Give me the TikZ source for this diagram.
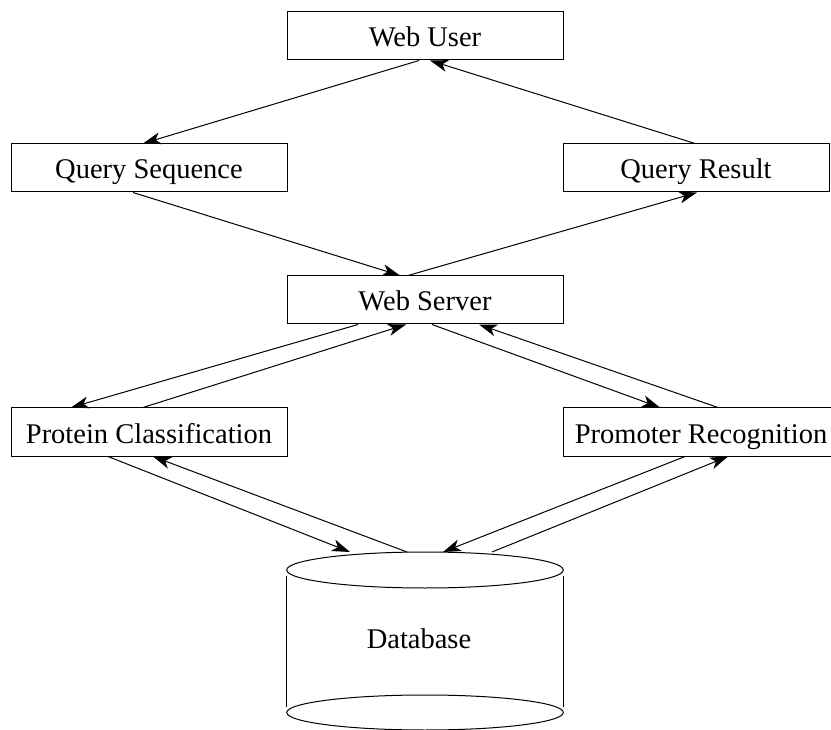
\documentclass[tikz,border=0pt]{standalone}
\usepackage{fontspec}
\setmainfont{Liberation Serif}
\usetikzlibrary{arrows.meta}
\begin{document}
\begin{tikzpicture}[x=1pt,y=-1pt,
  lbl/.style={font=\fontsize{28.5}{31}\selectfont,inner sep=0pt,text height=24pt,text depth=2pt},
  box/.style={draw,line width=1pt,rectangle,minimum height=48pt,lbl},
  conn/.style={line width=1pt,-{Stealth[length=18pt,width=12pt,inset=5pt]}},
  dbline/.style={line width=1pt}]
\useasboundingbox (0,0) rectangle (831,730);
\node[box,minimum width=276pt] (wu) at (425,36) {Web User};
\node[box,minimum width=276pt] (qs) at (149,168) {Query Sequence};
\node[box,minimum width=266pt] (qr) at (696,168) {Query Result};
\node[box,minimum width=276pt] (ws) at (425,300) {Web Server};
\node[box,minimum width=276pt] (pc) at (149,432) {Protein Classification};
\node[box,minimum width=276pt] (pr) at (701,432) {Promoter Recognition};
% database cylinder
\draw[dbline] (425,570) ellipse [x radius=138.3, y radius=18];
\draw[dbline] (286.7,576) -- (286.7,707);
\draw[dbline] (563.3,576) -- (563.3,707);
\draw[dbline] (425,712.5) ellipse [x radius=138.3, y radius=17.5];
\node[lbl] (db) at (419,637) {Database};
\coordinate (dbtop) at (425,552);
% connectors
\draw[conn] ([xshift=-6pt]wu.south) -- ([xshift=-6pt]qs.north);
\draw[conn] ([xshift=-1pt]qr.north) -- ([xshift=5pt]wu.south);
\draw[conn] ([xshift=-16pt]qs.south) -- ([xshift=-25pt]ws.north);
\draw[conn] ([xshift=-17pt]ws.north) -- ([xshift=1pt]qr.south);
\draw[conn] ([xshift=-67pt]ws.south) -- ([xshift=-78pt]pc.north);
\draw[conn] ([xshift=-6pt]pc.north) -- ([xshift=-19pt]ws.south);
\draw[conn] ([xshift=7pt]ws.south) -- ([xshift=-41pt]pr.north);
\draw[conn] ([xshift=17pt]pr.north) -- ([xshift=54pt]ws.south);
\draw[conn] ([xshift=-41pt]pc.south) -- ([xshift=-75pt]dbtop);
\draw[conn] ([xshift=-18pt]dbtop) -- ([xshift=4pt]pc.south);
\draw[conn] ([xshift=-16pt]pr.south) -- ([xshift=18pt]dbtop);
\draw[conn] ([xshift=67pt]dbtop) -- ([xshift=27pt]pr.south);
\end{tikzpicture}
\end{document}
